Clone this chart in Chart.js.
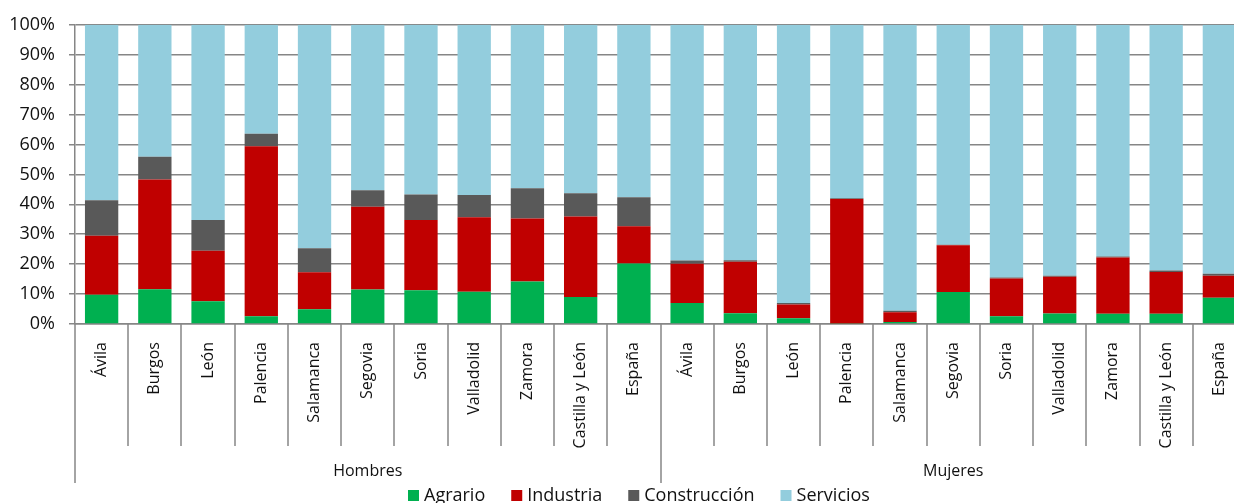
<!DOCTYPE html>
<html lang="es">
<head>
<meta charset="utf-8">
<title>Ocupados por sector</title>
<script src="https://cdn.jsdelivr.net/npm/chart.js@4/dist/chart.umd.min.js"></script>
<style>
  html, body { margin: 0; padding: 0; background: #fff; overflow: hidden; }
  #wrap { position: absolute; left: 0; top: 0; width: 1278px; height: 512px; }
</style>
</head>
<body>
<div id="wrap"><canvas id="grafico" width="1278" height="512"></canvas></div>
<script>
// Categorías: provincias dentro de cada sexo
const provincias = ['Ávila', 'Burgos', 'León', 'Palencia', 'Salamanca', 'Segovia', 'Soria', 'Valladolid', 'Zamora', 'Castilla y León', 'España'];
const grupos = ['Hombres', 'Mujeres'];
const sectores = ['Agrario', 'Industria', 'Construcción', 'Servicios'];
const colores = ['#00B050', '#C00000', '#595959', '#93CDDD'];

// Porcentaje de ocupados por sector (primero hombres, luego mujeres)
const agrario = [9.8, 11.6, 7.6, 2.6, 4.9, 11.5, 11.3, 10.8, 14.2, 9.0, 20.2,
                 7.0, 3.6, 1.9, 0.2, 0.7, 10.7, 2.6, 3.5, 3.4, 3.4, 8.8];
const industria = [19.7, 36.7, 16.9, 56.8, 12.4, 27.7, 23.5, 24.9, 21.1, 26.9, 12.5,
                   13.1, 17.2, 4.6, 41.6, 3.2, 15.6, 12.6, 12.3, 18.8, 14.0, 7.3];
const construccion = [11.9, 7.6, 10.3, 4.2, 8.0, 5.5, 8.5, 7.4, 10.1, 7.8, 9.7,
                      1.1, 0.5, 0.5, 0.2, 0.5, 0.2, 0.3, 0.3, 0.4, 0.5, 0.7];
const servicios = [58.6, 44.1, 65.2, 36.4, 74.7, 55.3, 56.7, 56.9, 54.6, 56.3, 57.6,
                   78.8, 78.7, 93.0, 58.0, 95.6, 73.5, 84.5, 83.9, 77.4, 82.1, 83.2];
const ticksY = [0, 10, 20, 30, 40, 50, 60, 70, 80, 90, 100];

const categorias = grupos.flatMap(() => provincias);
const series = [agrario, industria, construccion, servicios];

const FUENTE = '"Open Sans", "DejaVu Sans", sans-serif';
const TEXTO = '#111';
const LINEA = '#868686';
const GROSOR = 1.5;

// Eje de categorías en dos niveles (separadores, nombres de grupo) y leyenda inferior
const ejeAgrupado = {
  id: 'ejeAgrupado',
  afterDraw(chart) {
    const { ctx, chartArea, scales: { x } } = chart;
    const base = chartArea.bottom;
    const n = categorias.length;
    const porGrupo = provincias.length;
    ctx.save();
    ctx.strokeStyle = LINEA;
    ctx.lineWidth = GROSOR;
    for (let i = 0; i <= n; i++) {
      const px = Math.round(x.getPixelForValue(i - 0.5));
      const largo = i % porGrupo === 0;
      ctx.beginPath();
      ctx.moveTo(px, base);
      ctx.lineTo(px, base + (largo ? 159 : 122));
      ctx.stroke();
    }
    ctx.fillStyle = TEXTO;
    ctx.font = '16px ' + FUENTE;
    ctx.textAlign = 'center';
    ctx.textBaseline = 'middle';
    grupos.forEach((g, k) => {
      const x0 = x.getPixelForValue(k * porGrupo - 0.5);
      const x1 = x.getPixelForValue((k + 1) * porGrupo - 0.5);
      ctx.fillText(g, (x0 + x1) / 2, base + 147);
    });

    // Leyenda
    ctx.font = '18px ' + FUENTE;
    ctx.textAlign = 'left';
    ctx.textBaseline = 'alphabetic';
    const caja = 11, hueco = 5, sep = 26;
    const anchos = sectores.map(s => ctx.measureText(s).width);
    const total = anchos.reduce((a, w) => a + caja + hueco + w, 0) + sep * (sectores.length - 1);
    let lx = Math.round(chart.width / 2 - total / 2);
    const linea = chart.height - 11;
    sectores.forEach((s, k) => {
      ctx.fillStyle = colores[k];
      ctx.fillRect(lx, linea - caja, caja, caja);
      ctx.fillStyle = TEXTO;
      ctx.fillText(s, lx + caja + hueco, linea);
      lx += caja + hueco + anchos[k] + sep;
    });
    ctx.restore();
  }
};

new Chart(document.getElementById('grafico'), {
  type: 'bar',
  data: {
    labels: categorias,
    datasets: sectores.map((s, k) => ({
      label: s,
      data: series[k],
      backgroundColor: colores[k],
      borderWidth: 0,
      barPercentage: 0.626,
      categoryPercentage: 1,
      stack: 'total'
    }))
  },
  options: {
    responsive: false,
    animation: false,
    devicePixelRatio: 1,
    layout: { padding: { top: 22, right: 32, bottom: 0, left: 0 } },
    plugins: { legend: { display: false }, tooltip: { enabled: false } },
    scales: {
      x: {
        stacked: true,
        afterFit(scale) { scale.height = 188; },
        grid: { display: false, drawTicks: false },
        border: { display: true, color: LINEA, width: GROSOR },
        ticks: {
          autoSkip: false,
          minRotation: 90,
          maxRotation: 90,
          padding: 18,
          color: TEXTO,
          font: { family: FUENTE, size: 16 }
        }
      },
      y: {
        stacked: true,
        min: 0,
        max: 100,
        afterFit(scale) { scale.width = 75; },
        afterBuildTicks(scale) { scale.ticks = ticksY.map(v => ({ value: v })); },
        grid: { color: LINEA, lineWidth: GROSOR, tickLength: 6, drawTicks: true },
        border: { display: true, color: LINEA, width: GROSOR },
        ticks: {
          padding: 14,
          color: TEXTO,
          font: { family: FUENTE, size: 18 },
          callback: v => v + '%'
        }
      }
    }
  },
  plugins: [ejeAgrupado]
});
</script>
</body>
</html>
